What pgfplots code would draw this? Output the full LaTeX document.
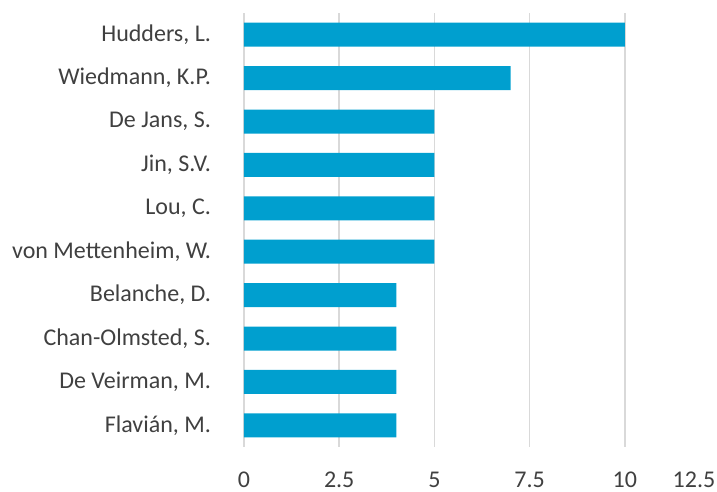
\documentclass[border=0pt]{standalone}
\usepackage{pgfplots}
\pgfplotsset{compat=1.18}
\usepackage{fontspec}
\setmainfont{Carlito}
\definecolor{barblue}{HTML}{009FCF}
\definecolor{txt}{HTML}{404040}
\definecolor{gridgray}{HTML}{D9D9D9}
\begin{document}
\begin{tikzpicture}
\begin{axis}[
  scale only axis,
  width=238pt, height=217pt,
  xbar, bar width=12pt,
  xmin=0, xmax=12.5,
  ymin=-0.5, ymax=9.5,
  y dir=reverse,
  xtick={0,2.5,5,7.5,10},
  extra x ticks={12.5},
  extra x tick style={xmajorgrids=false, xticklabel style={xshift=-13pt}},
  ytick={0,...,9},
  yticklabels={{Hudders, L.},{Wiedmann, K.P.},{De Jans, S.},{Jin, S.V.},{Lou, C.},{von Mettenheim, W.},{Belanche, D.},{Chan-Olmsted, S.},{De Veirman, M.},{Flavián, M.}},
  /pgf/number format/assume math mode=true,
  font=\fontsize{12}{14}\selectfont,
  tick label style={text=txt},
  xticklabel style={yshift=-9pt},
  yticklabel style={xshift=-13pt},
  major tick length=0pt,
  xmajorgrids=true, ymajorgrids=false,
  major grid style={draw=gridgray, line width=0.75pt},
  axis line style={draw=none},
  clip=false,
]
\addplot[fill=barblue, draw=none] coordinates {
(10,0) (7,1) (5,2) (5,3) (5,4) (5,5) (4,6) (4,7) (4,8) (4,9)
};
\end{axis}
\pgfresetboundingbox
\path[use as bounding box] ([xshift=-122pt,yshift=-22.5pt]current axis.south west) rectangle ([xshift=-1.5pt,yshift=6.5pt]current axis.north east);
\end{tikzpicture}
\end{document}
